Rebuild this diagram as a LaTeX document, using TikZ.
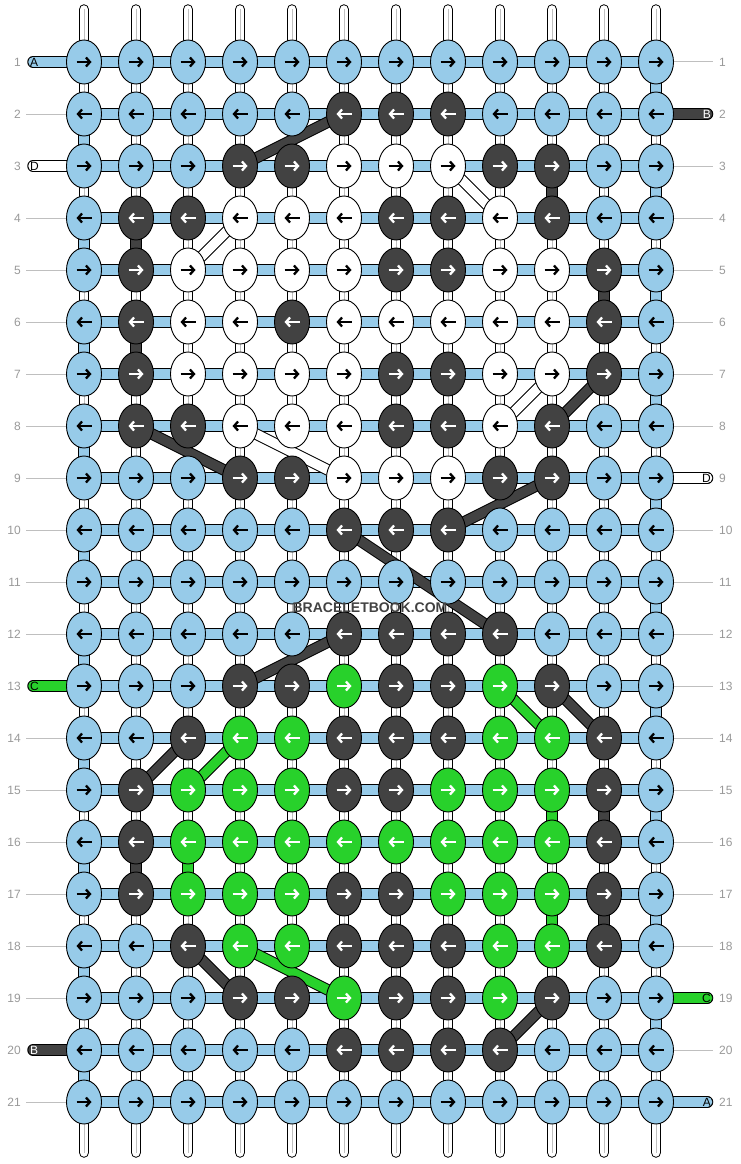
\documentclass[tikz,border=0pt]{standalone}
\usepackage{fontspec}
\setmainfont{Liberation Sans}
\usetikzlibrary{shapes.geometric,arrows.meta}
\definecolor{azul}{HTML}{97CBE9}
\definecolor{oscuro}{HTML}{424242}
\definecolor{verde}{HTML}{28D12B}
\definecolor{gris}{HTML}{999999}
\definecolor{grisclaro}{HTML}{BFBFBF}
\pgfdeclarelayer{urdimbre}
\pgfdeclarelayer{hilos}
\pgfsetlayers{urdimbre,hilos,main}
\begin{document}
\begin{tikzpicture}[x=1pt,y=-1pt]
	% formatos
	\tikzstyle{nudo} = [ellipse, draw, line width=0.9, minimum width=35, minimum height=44, inner sep=0]
	\tikzstyle{nb} = [nudo, fill=azul]
	\tikzstyle{nd} = [nudo, fill=oscuro]
	\tikzstyle{nw} = [nudo, fill=white]
	\tikzstyle{ng} = [nudo, fill=verde]
	\tikzstyle{flecha} = [line width=2.3, -{Straight Barb[length=4pt, width=9pt]}]
	\tikzstyle{fb} = [flecha, black]
	\tikzstyle{fd} = [flecha, white]
	\tikzstyle{fw} = [flecha, black]
	\tikzstyle{fg} = [flecha, white]
	\tikzstyle{hilo} = [line width=1, double distance=9.5]
	\tikzstyle{hb} = [hilo, double=azul]
	\tikzstyle{hd} = [hilo, double=oscuro]
	\tikzstyle{hw} = [hilo, double=white]
	\tikzstyle{hg} = [hilo, double=verde]
	\tikzstyle{urd} = [line width=1, double=white, double distance=8.5, line cap=round]
	\tikzstyle{num} = [text=gris, font=\fontsize{12}{12}\selectfont, inner sep=2]
	\tikzstyle{letra} = [font=\fontsize{12}{12}\selectfont, inner sep=0]
	\tikzstyle{guia} = [grisclaro, line width=1]
	\useasboundingbox (0,0) rectangle (740,1164);
	% nudos
	\foreach \fila [count=\r] in {
		{b,b,b,b,b,b,b,b,b,b,b,b},
		{b,b,b,b,b,d,d,d,b,b,b,b},
		{b,b,b,d,d,w,w,w,d,d,b,b},
		{b,d,d,w,w,w,d,d,w,d,b,b},
		{b,d,w,w,w,w,d,d,w,w,d,b},
		{b,d,w,w,d,w,w,w,w,w,d,b},
		{b,d,w,w,w,w,d,d,w,w,d,b},
		{b,d,d,w,w,w,d,d,w,d,b,b},
		{b,b,b,d,d,w,w,w,d,d,b,b},
		{b,b,b,b,b,d,d,d,b,b,b,b},
		{b,b,b,b,b,b,b,b,b,b,b,b},
		{b,b,b,b,b,d,d,d,d,b,b,b},
		{b,b,b,d,d,g,d,d,g,d,b,b},
		{b,b,d,g,g,d,d,d,g,g,d,b},
		{b,d,g,g,g,d,d,g,g,g,d,b},
		{b,d,g,g,g,g,g,g,g,g,d,b},
		{b,d,g,g,g,d,d,g,g,g,d,b},
		{b,b,d,g,g,d,d,d,g,g,d,b},
		{b,b,b,d,d,g,d,d,g,d,b,b},
		{b,b,b,b,b,d,d,d,d,b,b,b},
		{b,b,b,b,b,b,b,b,b,b,b,b}}{
		\pgfmathtruncatemacro\s{ifthenelse(mod(\r,2)==1,1,-1)}
		\foreach \k [count=\c] in \fila {
			\node [n\k] (k\r-\c) at (32+52*\c, 10+52*\r) {};
			\draw [f\k] ([xshift=-7.5*\s]k\r-\c.center) -- ++(15*\s,0);
		}
	}
	% numeros de fila
	\foreach \r in {1,...,21} {
		\node [num, anchor=east] (ni\r) at (23, 10+52*\r) {\r};
		\node [num, anchor=west] (nd\r) at (717, 10+52*\r) {\r};
	}
	\foreach \r in {2,4,5,6,7,8,9,10,11,12,14,15,16,17,18,19,21}
		\draw [guia, shorten <=3] (ni\r) -- (k\r-1);
	\foreach \r in {1,3,4,5,6,7,8,10,11,12,13,14,15,16,17,18,20}
		\draw [guia, shorten >=4] (k\r-12) -- (nd\r);
	% urdimbre
	\begin{pgfonlayer}{urdimbre}
		\foreach \c in {1,...,12} {
			\coordinate (u\c) at (32+52*\c, 9.5);
			\coordinate (v\c) at (32+52*\c, 1152.5);
			\draw [urd] (u\c) -- (v\c);
			\draw [guia] (u\c) -- (v\c);
		}
	\end{pgfonlayer}
	% relaciones
	\begin{pgfonlayer}{hilos}
		\foreach \r in {1,...,21}
			\draw [hb] (k\r-1.center) -- (k\r-12.center);
		\foreach \r [evaluate=\r as \t using int(\r+1)] in {2,4,...,20}
			\draw [hb] (k\r-1.center) -- (k\t-1.center);
		\foreach \r [evaluate=\r as \t using int(\r+1)] in {1,3,...,19}
			\draw [hb] (k\r-12.center) -- (k\t-12.center);
		% hilo oscuro
		\draw [hd] (k2-6.center) -- (k3-4.center);
		\draw [hd] (k3-10.center) -- (k4-10.center);
		\draw [hd] (k4-2.center) -- (k5-2.center);
		\draw [hd] (k5-11.center) -- (k6-11.center);
		\draw [hd] (k6-2.center) -- (k7-2.center);
		\draw [hd] (k7-11.center) -- (k8-10.center);
		\draw [hd] (k8-2.center) -- (k9-4.center);
		\draw [hd] (k9-10.center) -- (k10-8.center);
		\draw [hd] (k10-6.center) -- (k12-9.center);
		\draw [hd] (k12-6.center) -- (k13-4.center);
		\draw [hd] (k13-10.center) -- (k14-11.center);
		\draw [hd] (k14-3.center) -- (k15-2.center);
		\draw [hd] (k15-11.center) -- (k16-11.center);
		\draw [hd] (k16-2.center) -- (k17-2.center);
		\draw [hd] (k17-11.center) -- (k18-11.center);
		\draw [hd] (k18-3.center) -- (k19-4.center);
		\draw [hd] (k19-10.center) -- (k20-9.center);
		% hilo blanco
		\draw [hw] (k3-8.center) -- (k4-9.center);
		\draw [hw] (k4-4.center) -- (k5-3.center);
		\draw [hw] (k7-10.center) -- (k8-9.center);
		\draw [hw] (k8-4.center) -- (k9-6.center);
		% hilo verde
		\draw [hg] (k13-9.center) -- (k14-10.center);
		\draw [hg] (k14-4.center) -- (k15-3.center);
		\draw [hg] (k15-10.center) -- (k16-10.center);
		\draw [hg] (k16-3.center) -- (k17-3.center);
		\draw [hg] (k17-10.center) -- (k18-10.center);
		\draw [hg] (k18-4.center) -- (k19-6.center);
		% cabos
		\coordinate (cA1) at (33,62);
		\coordinate (cD3) at (33,166);
		\coordinate (cC13) at (33,686);
		\coordinate (cB20) at (33,1050);
		\coordinate (cB2) at (707.5,114);
		\coordinate (cD9) at (707.5,478);
		\coordinate (cC19) at (707.5,998);
		\coordinate (cA21) at (707.5,1102);
		\draw [hb, line cap=round] (cA1) -- (k1-1.center);
		\draw [hw, line cap=round] (cD3) -- (k3-1.center);
		\draw [hg, line cap=round] (cC13) -- (k13-1.center);
		\draw [hd, line cap=round] (cB20) -- (k20-1.center);
		\draw [hd, line cap=round] (k2-12.center) -- (cB2);
		\draw [hw, line cap=round] (k9-12.center) -- (cD9);
		\draw [hg, line cap=round] (k19-12.center) -- (cC19);
		\draw [hb, line cap=round] (k21-12.center) -- (cA21);
	\end{pgfonlayer}
	\node [letra, anchor=west] (tA1) at (30,62) {A};
	\node [letra, anchor=west] (tD3) at (30,166) {D};
	\node [letra, anchor=west] (tC13) at (30,686) {C};
	\node [letra, anchor=west, text=white] (tB20) at (30,1050) {B};
	\node [letra, anchor=east, text=white] (tB2) at (711,114) {B};
	\node [letra, anchor=east] (tD9) at (711,478) {D};
	\node [letra, anchor=east] (tC19) at (711,998) {C};
	\node [letra, anchor=east] (tA21) at (711,1102) {A};
	% marca
	\node [text=oscuro, font=\bfseries\fontsize{14}{14}\selectfont] (marca) at (370,608) {BRACELETBOOK.COM};
\end{tikzpicture}
\end{document}
